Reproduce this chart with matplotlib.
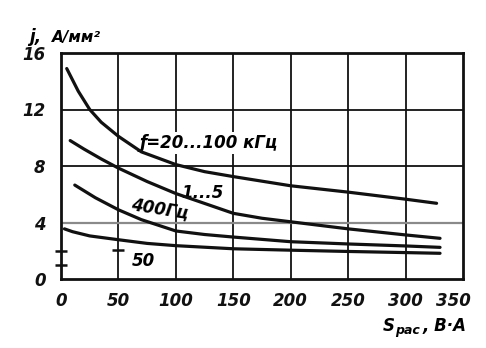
import matplotlib
matplotlib.use("Agg")
import matplotlib.pyplot as plt
from matplotlib import transforms

# Current density j (A/mm^2) versus rated power S (V·A) for several supply frequencies
s_khz = [5, 10, 15, 25, 35, 50, 70, 100, 125, 150, 200, 250, 300, 327]
j_khz = [14.9, 14.1, 13.3, 12.0, 11.1, 10.1, 9.0, 8.1, 7.6, 7.25, 6.6, 6.15, 5.65, 5.36]

s_1_5 = [8, 20, 35, 50, 75, 100, 125, 150, 175, 200, 250, 300, 330]
j_1_5 = [9.8, 9.2, 8.5, 7.85, 6.9, 6.05, 5.35, 4.65, 4.3, 4.05, 3.55, 3.12, 2.88]

s_400 = [12, 30, 50, 70, 100, 125, 150, 200, 250, 300, 330]
j_400 = [6.65, 5.75, 4.9, 4.2, 3.4, 3.15, 2.97, 2.64, 2.48, 2.34, 2.24]

s_50 = [3, 10, 25, 50, 75, 100, 150, 200, 250, 300, 330]
j_50 = [3.55, 3.35, 3.05, 2.78, 2.52, 2.36, 2.14, 2.04, 1.95, 1.87, 1.82]

x_ticks = [0, 50, 100, 150, 200, 250, 300, 350]
y_ticks = [0, 4, 8, 12, 16]
y_tick_labels = ["0", "4", "8", "12", "16"]

W, H = 486, 348
fig = plt.figure(figsize=(W / 100, H / 100), dpi=100)
ax = fig.add_axes([61 / W, 1 - 279 / H, (463 - 61) / W, (279 - 53) / H])

font = dict(family="DejaVu Sans", style="italic", weight="bold")
ink = "#111111"

ax.set_xlim(0, 350)
ax.set_ylim(0, 16)

# grid drawn by hand so the 4 A/mm^2 line can be lighter
for x in x_ticks[1:-1]:
    ax.axvline(x, color=ink, lw=1.3, zorder=1)
for y in [8, 12]:
    ax.axhline(y, color=ink, lw=1.3, zorder=1)
ax.axhline(4, color="#8a8a8a", lw=1.6, zorder=1)

for sp in ax.spines.values():
    sp.set_linewidth(2.0)
    sp.set_color(ink)

curve_kw = dict(color=ink, lw=2.3, solid_capstyle="round", solid_joinstyle="round", zorder=3)
ax.plot(s_khz, j_khz, **curve_kw)
ax.plot(s_1_5, j_1_5, **curve_kw)
ax.plot(s_400, j_400, **curve_kw)
ax.plot(s_50, j_50, **curve_kw)

ax.set_xticks(x_ticks)
ax.set_yticks(y_ticks)
ax.set_yticklabels(y_tick_labels)
ax.tick_params(length=0, pad=9, labelsize=12, colors=ink)
ax.tick_params(axis="y", pad=11)
for lbl in ax.get_xticklabels() + ax.get_yticklabels():
    lbl.set_fontstyle("italic")
    lbl.set_fontweight("bold")
# last x label nudged left inside the frame
last = ax.get_xticklabels()[-1]
last.set_transform(last.get_transform() + transforms.ScaledTranslation(-10 / 100, 0, fig.dpi_scale_trans))

# small marks on the left spine and the x=50 line
ax.plot([0, 0], [1, 2], ls="none", marker="_", ms=9, mew=1.8, color=ink, clip_on=False, zorder=4)
ax.plot([50], [2.05], ls="none", marker="_", ms=8, mew=1.8, color=ink, zorder=4)

# curve labels
box = dict(facecolor="white", edgecolor="none", pad=1.5)
ax.text(68, 9.6, "ƒ=20...100 кГц", fontsize=12, ha="left", va="center", bbox=box, zorder=2, **font)
ax.text(105, 6.1, "1...5", fontsize=12, ha="left", va="center", zorder=2, **font)
ax.text(60, 5.0, "400Гц", fontsize=12, ha="left", va="center", rotation=-9, zorder=2, **font)
ax.text(62, 1.3, "50", fontsize=12, ha="left", va="center", zorder=2, **font)

# axis titles
fig.text(29 / W, 1 - 42 / H, "j,", fontsize=12, ha="left", va="baseline", **font)
fig.text(52 / W, 1 - 42 / H, "A/мм²", fontsize=11, ha="left", va="baseline", **font)
fig.text(383 / W, 1 - 331 / H, "S", fontsize=12, ha="left", va="baseline", **font)
fig.text(395 / W, 1 - 334 / H, "рас", fontsize=9, ha="left", va="baseline", **font)
fig.text(423 / W, 1 - 331 / H, ", В·А", fontsize=12, ha="left", va="baseline", **font)

fig.savefig("out.png", dpi=100, facecolor="white")
